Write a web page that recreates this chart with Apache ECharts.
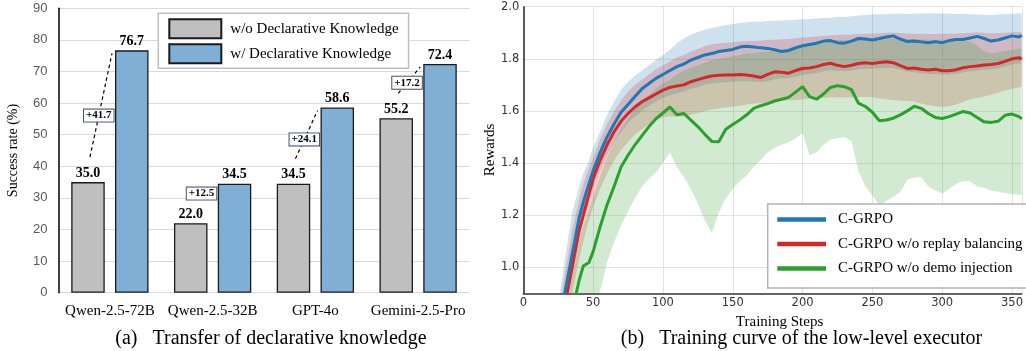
<!DOCTYPE html>
<html>
<head>
<meta charset="utf-8">
<script src="https://cdn.jsdelivr.net/npm/echarts@6/dist/echarts.min.js"></script>
<style>
html,body{margin:0;padding:0;background:#fff;}
#c{width:1026px;height:351px;}
</style>
</head>
<body>
<div id="c"></div>
<script>
// ---------- (a) bar chart data ----------
const models = ['Qwen-2.5-72B', 'Qwen-2.5-32B', 'GPT-4o', 'Gemini-2.5-Pro'];
const withoutDK = [35.0, 22.0, 34.5, 55.2];
const withDK = [76.7, 34.5, 58.6, 72.4];
const gainLabels = ['+41.7', '+12.5', '+24.1', '+17.2'];
const barYTicks = [0, 90, 10]; // min, max, interval

// ---------- (b) training curves data ----------
const steps = [25,30,35,40,43,47,50,55,60,65,70,75,80,85,90,95,100,105,110,115,120,125,130,135,140,145,150,155,160,165,170,175,180,185,190,195,200,205,210,215,220,225,230,235,240,245,250,255,260,265,270,275,280,285,290,295,300,305,310,315,320,325,330,335,340,345,350,355,357];

const blueMean = [0.78,0.91,1.05,1.19,1.25,1.32,1.37,1.44,1.50,1.55,1.595,1.625,1.655,1.685,1.705,1.725,1.74,1.755,1.77,1.78,1.795,1.805,1.815,1.82,1.828,1.832,1.836,1.845,1.848,1.845,1.842,1.84,1.835,1.828,1.832,1.842,1.85,1.855,1.86,1.868,1.87,1.862,1.86,1.868,1.878,1.876,1.872,1.878,1.884,1.888,1.876,1.866,1.868,1.865,1.862,1.866,1.862,1.87,1.874,1.874,1.88,1.886,1.878,1.868,1.872,1.88,1.888,1.884,1.89];
const blueLow = [0.70,0.84,0.98,1.12,1.18,1.25,1.30,1.37,1.43,1.48,1.52,1.555,1.58,1.60,1.62,1.635,1.65,1.66,1.668,1.675,1.685,1.692,1.70,1.705,1.708,1.71,1.712,1.714,1.714,1.712,1.71,1.715,1.722,1.725,1.726,1.73,1.738,1.742,1.746,1.752,1.756,1.754,1.752,1.755,1.76,1.762,1.762,1.764,1.766,1.765,1.758,1.75,1.748,1.745,1.742,1.742,1.74,1.74,1.742,1.748,1.752,1.755,1.758,1.76,1.764,1.77,1.778,1.782,1.782];
const blueHigh = [0.86,1.04,1.21,1.31,1.36,1.41,1.46,1.52,1.585,1.635,1.68,1.712,1.735,1.755,1.775,1.795,1.815,1.835,1.86,1.878,1.892,1.903,1.912,1.918,1.924,1.93,1.934,1.937,1.94,1.942,1.943,1.945,1.946,1.947,1.948,1.95,1.952,1.953,1.955,1.957,1.958,1.96,1.961,1.963,1.966,1.968,1.97,1.971,1.972,1.973,1.973,1.972,1.973,1.974,1.975,1.974,1.974,1.973,1.972,1.972,1.971,1.97,1.969,1.968,1.97,1.972,1.973,1.974,1.974];

const redMean = [0.72,0.86,1.00,1.14,1.20,1.28,1.34,1.41,1.47,1.52,1.56,1.59,1.615,1.635,1.65,1.665,1.68,1.69,1.696,1.70,1.712,1.72,1.728,1.734,1.737,1.738,1.738,1.74,1.738,1.734,1.728,1.74,1.75,1.748,1.745,1.755,1.763,1.765,1.77,1.778,1.783,1.775,1.77,1.775,1.782,1.785,1.782,1.786,1.789,1.785,1.774,1.763,1.765,1.76,1.757,1.76,1.754,1.754,1.758,1.766,1.77,1.772,1.776,1.778,1.782,1.79,1.80,1.804,1.80];
const redLow = [0.62,0.76,0.90,1.03,1.10,1.18,1.23,1.30,1.36,1.41,1.45,1.48,1.51,1.53,1.55,1.565,1.575,1.58,1.578,1.58,1.585,1.592,1.60,1.605,1.61,1.614,1.616,1.62,1.625,1.628,1.63,1.632,1.635,1.638,1.64,1.642,1.645,1.648,1.65,1.65,1.652,1.652,1.652,1.652,1.653,1.653,1.652,1.648,1.645,1.642,1.64,1.638,1.635,1.628,1.622,1.618,1.616,1.618,1.625,1.635,1.645,1.65,1.655,1.662,1.67,1.678,1.685,1.69,1.693];
const redHigh = [0.82,0.98,1.14,1.26,1.32,1.38,1.42,1.49,1.55,1.60,1.64,1.675,1.70,1.72,1.74,1.76,1.775,1.79,1.805,1.815,1.828,1.838,1.848,1.856,1.86,1.862,1.864,1.866,1.868,1.868,1.87,1.872,1.873,1.875,1.876,1.879,1.882,1.884,1.886,1.888,1.89,1.891,1.892,1.893,1.894,1.896,1.897,1.898,1.90,1.901,1.899,1.897,1.896,1.896,1.895,1.895,1.896,1.896,1.897,1.898,1.90,1.901,1.90,1.898,1.899,1.90,1.902,1.903,1.903];

const greenMean = [0.60,0.70,0.83,0.95,1.005,1.018,1.06,1.155,1.24,1.31,1.385,1.43,1.47,1.505,1.54,1.57,1.592,1.615,1.585,1.59,1.565,1.54,1.51,1.483,1.482,1.53,1.548,1.565,1.585,1.61,1.62,1.628,1.638,1.645,1.652,1.672,1.693,1.655,1.645,1.665,1.69,1.697,1.693,1.682,1.63,1.617,1.595,1.562,1.565,1.572,1.585,1.60,1.618,1.61,1.59,1.575,1.571,1.578,1.588,1.598,1.592,1.575,1.558,1.556,1.56,1.583,1.588,1.578,1.57];
const greenLow = [0.50,0.55,0.60,0.65,0.70,0.78,0.83,0.91,1.02,1.095,1.16,1.215,1.265,1.31,1.34,1.365,1.40,1.44,1.385,1.345,1.30,1.245,1.18,1.13,1.21,1.265,1.30,1.33,1.352,1.385,1.412,1.44,1.458,1.47,1.48,1.495,1.515,1.43,1.44,1.47,1.49,1.495,1.50,1.485,1.37,1.31,1.275,1.235,1.255,1.27,1.29,1.335,1.345,1.345,1.31,1.295,1.283,1.30,1.32,1.33,1.33,1.31,1.305,1.295,1.29,1.285,1.28,1.278,1.277];
const greenHigh = [0.75,0.85,0.98,1.10,1.16,1.22,1.27,1.35,1.42,1.48,1.53,1.57,1.61,1.64,1.66,1.685,1.705,1.72,1.74,1.755,1.765,1.775,1.785,1.795,1.80,1.805,1.81,1.815,1.82,1.822,1.825,1.828,1.83,1.835,1.84,1.85,1.855,1.858,1.86,1.865,1.87,1.872,1.872,1.873,1.875,1.876,1.877,1.878,1.88,1.88,1.878,1.876,1.875,1.874,1.873,1.872,1.87,1.87,1.87,1.868,1.865,1.85,1.83,1.82,1.825,1.83,1.835,1.84,1.84];

const curveNames = ['C-GRPO', 'C-GRPO w/o replay balancing', 'C-GRPO w/o demo injection'];
const curveColors = ['#1f77b4', '#d62728', '#2ca02c'];
const bandColors = ['rgba(31,119,180,0.22)', 'rgba(214,39,40,0.22)', 'rgba(44,160,44,0.22)'];
const stepTicks = [0, 357, 50];
const rewardTicks = [0.9, 2.0, 0.1];

// ---------- helpers ----------
const SERIF = '"Liberation Serif", "Times New Roman", serif';
const pts = arr => steps.map((s, i) => [s, arr[i]]);

const BAR_W = 33.5, BAR_GAP = 10.3;

function bandSeries(lo, hi, fill) {
  return {
    type: 'custom', xAxisIndex: 1, yAxisIndex: 1, silent: true, z: 1, clip: true,
    data: [[steps[20], hi[20]]],
    renderItem: (params, api) => {
      const top = steps.map((s, i) => api.coord([s, hi[i]]));
      const bot = steps.map((s, i) => api.coord([s, lo[i]])).reverse();
      const cs = params.coordSys;
      return {
        type: 'polygon', shape: { points: top.concat(bot) }, style: { fill: fill, stroke: null },
        clipPath: { type: 'rect', shape: { x: cs.x, y: cs.y, width: cs.width, height: cs.height } }
      };
    }
  };
}

const chart = echarts.init(document.getElementById('c'), null, { renderer: 'canvas' });

const option = {
  animation: false,
  backgroundColor: '#fff',
  grid: [
    { left: 58.5, top: 8.3, width: 411, height: 284.4 },
    { left: 523.3, top: 6.7, right: 0, height: 286.6 }
  ],
  xAxis: [
    { type: 'category', gridIndex: 0, data: models,
      axisLine: { show: false }, axisTick: { show: false },
      axisLabel: { interval: 0, fontFamily: SERIF, fontSize: 15, color: '#000', margin: 11 },
      splitLine: { show: false } },
    { type: 'value', gridIndex: 1, min: stepTicks[0], max: stepTicks[1], interval: stepTicks[2],
      name: 'Training Steps', nameLocation: 'middle', nameGap: 17,
      nameTextStyle: { fontFamily: SERIF, fontSize: 15, color: '#000', padding: [0, 0, 0, 14] },
      axisLine: { show: true, onZero: false, lineStyle: { color: '#333', width: 1.6 } },
      axisTick: { show: false },
      axisLabel: { fontFamily: '"DejaVu Sans", sans-serif', fontSize: 11.5, color: '#333', margin: 4, showMaxLabel: false },
      splitLine: { show: true, lineStyle: { color: '#e3e3e3', width: 1 } } }
  ],
  yAxis: [
    { type: 'value', gridIndex: 0, min: barYTicks[0], max: barYTicks[1], interval: barYTicks[2],
      name: 'Success rate (%)', nameLocation: 'middle', nameGap: 38,
      nameTextStyle: { fontFamily: SERIF, fontSize: 14, color: '#000' },
      axisLine: { show: true, lineStyle: { color: '#000', width: 1.5 } },
      axisTick: { show: false },
      axisLabel: { fontFamily: '"Liberation Sans", Arial, sans-serif', fontSize: 13, color: '#595959', margin: 11 },
      splitLine: { show: true, lineStyle: { color: '#d9d9d9', width: 1 } } },
    { type: 'value', gridIndex: 1, min: rewardTicks[0], max: rewardTicks[1], interval: rewardTicks[2],
      name: 'Rewards', nameLocation: 'middle', nameGap: 22,
      nameTextStyle: { fontFamily: SERIF, fontSize: 15, color: '#000' },
      axisLine: { show: true, onZero: false, lineStyle: { color: '#333', width: 1.6 } },
      axisTick: { show: false },
      axisLabel: { fontFamily: '"DejaVu Sans", sans-serif', fontSize: 11.5, color: '#333', margin: 4,
        formatter: v => (Math.round(v * 10) % 2 === 0 ? v.toFixed(1) : '') },
      splitLine: { show: true, lineStyle: { color: ['transparent', '#e3e3e3'], width: 1 } } }
  ],
  legend: [
    { data: ['w/o Declarative Knowledge', 'w/ Declarative Knowledge'], orient: 'vertical', icon: 'rect',
      left: 158.3, top: 13.3, padding: [5, 10, 4, 10], itemWidth: 52, itemHeight: 19, itemGap: 4,
      selectedMode: false, backgroundColor: '#fff', borderColor: '#bfbfbf', borderWidth: 1.5,
      textStyle: { fontFamily: SERIF, fontSize: 15, color: '#000', padding: [0, 0, 0, 4] } },
    { data: curveNames, orient: 'vertical', icon: 'rect', left: 767.7, top: 204, padding: [8, 30, 12, 9.6],
      itemWidth: 48.7, itemHeight: 4.5, itemGap: 9.5, selectedMode: false,
      backgroundColor: 'rgba(255,255,255,0.9)', borderColor: '#b3b3b3', borderWidth: 1.5,
      textStyle: { fontFamily: SERIF, fontSize: 15, color: '#000', padding: [0, 0, 0, 7] } }
  ],
  graphic: [
    { type: 'text', x: 271, y: 339, style: { text: '(a)\u00a0\u00a0 Transfer of declarative knowledge',
      font: '20px "Liberation Serif", serif', fill: '#000', align: 'center', verticalAlign: 'middle' } },
    { type: 'text', x: 801.5, y: 339, style: { text: '(b)\u00a0\u00a0 Training curve of the low-level executor',
      font: '20px "Liberation Serif", serif', fill: '#000', align: 'center', verticalAlign: 'middle' } }
  ],
  series: [
    { type: 'bar', name: 'w/o Declarative Knowledge', xAxisIndex: 0, yAxisIndex: 0, data: withoutDK,
      barWidth: BAR_W, barGap: (BAR_GAP / BAR_W * 100).toFixed(1) + '%',
      itemStyle: { color: '#bfbfbf', borderColor: '#1a1a1a', borderWidth: 1.3 },
      label: { show: true, position: 'top', distance: 2, fontFamily: SERIF, fontWeight: 'bold', fontSize: 14, color: '#000',
        formatter: p => p.value.toFixed(1) } },
    { type: 'bar', name: 'w/ Declarative Knowledge', xAxisIndex: 0, yAxisIndex: 0, data: withDK,
      barWidth: BAR_W,
      itemStyle: { color: '#80afd6', borderColor: '#1a1a1a', borderWidth: 1.3 },
      label: { show: true, position: 'top', distance: 2, fontFamily: SERIF, fontWeight: 'bold', fontSize: 14, color: '#000',
        formatter: p => p.value.toFixed(1) } },
    { type: 'custom', name: 'gain', xAxisIndex: 0, yAxisIndex: 0, silent: true, z: 5,
      data: models.map((m, i) => [i, withoutDK[i], withDK[i]]),
      renderItem: (params, api) => {
        const i = api.value(0);
        const c = api.coord([i, 0]);
        const gTop = api.coord([i, api.value(1)])[1];
        const bTop = api.coord([i, api.value(2)])[1];
        const gx = c[0] - (BAR_W + BAR_GAP) / 2;
        const bLeft = c[0] + BAR_GAP / 2;
        const x1 = gx + 2, y1 = gTop - 25, x2 = bLeft - 3, y2 = bTop + 3;
        const t = 0.4;
        const bx = x1 + (x2 - x1) * t, by = y1 + (y2 - y1) * t;
        return { type: 'group', children: [
          { type: 'line', shape: { x1, y1, x2, y2 }, style: { stroke: '#000', lineWidth: 1.2, lineDash: [3.5, 3] } },
          { type: 'text', x: bx, y: by, style: { text: gainLabels[params.dataIndex], font: 'bold 11px "Liberation Serif", serif',
            fill: '#000', align: 'center', verticalAlign: 'middle', backgroundColor: '#fff',
            borderColor: '#3f5270', borderWidth: 1, padding: [1, 2, 0, 2] } }
        ] };
      } },
    bandSeries(blueLow, blueHigh, bandColors[0]),
    bandSeries(redLow, redHigh, bandColors[1]),
    bandSeries(greenLow, greenHigh, bandColors[2]),
    { type: 'line', name: curveNames[0], xAxisIndex: 1, yAxisIndex: 1, data: pts(blueMean), symbol: 'none',
      lineStyle: { color: curveColors[0], width: 3 }, itemStyle: { color: curveColors[0] }, z: 4, clip: true },
    { type: 'line', name: curveNames[1], xAxisIndex: 1, yAxisIndex: 1, data: pts(redMean), symbol: 'none',
      lineStyle: { color: curveColors[1], width: 3 }, itemStyle: { color: curveColors[1] }, z: 3, clip: true },
    { type: 'line', name: curveNames[2], xAxisIndex: 1, yAxisIndex: 1, data: pts(greenMean), symbol: 'none',
      lineStyle: { color: curveColors[2], width: 3 }, itemStyle: { color: curveColors[2] }, z: 3, clip: true }
  ]
};
chart.setOption(option);
</script>
</body>
</html>
